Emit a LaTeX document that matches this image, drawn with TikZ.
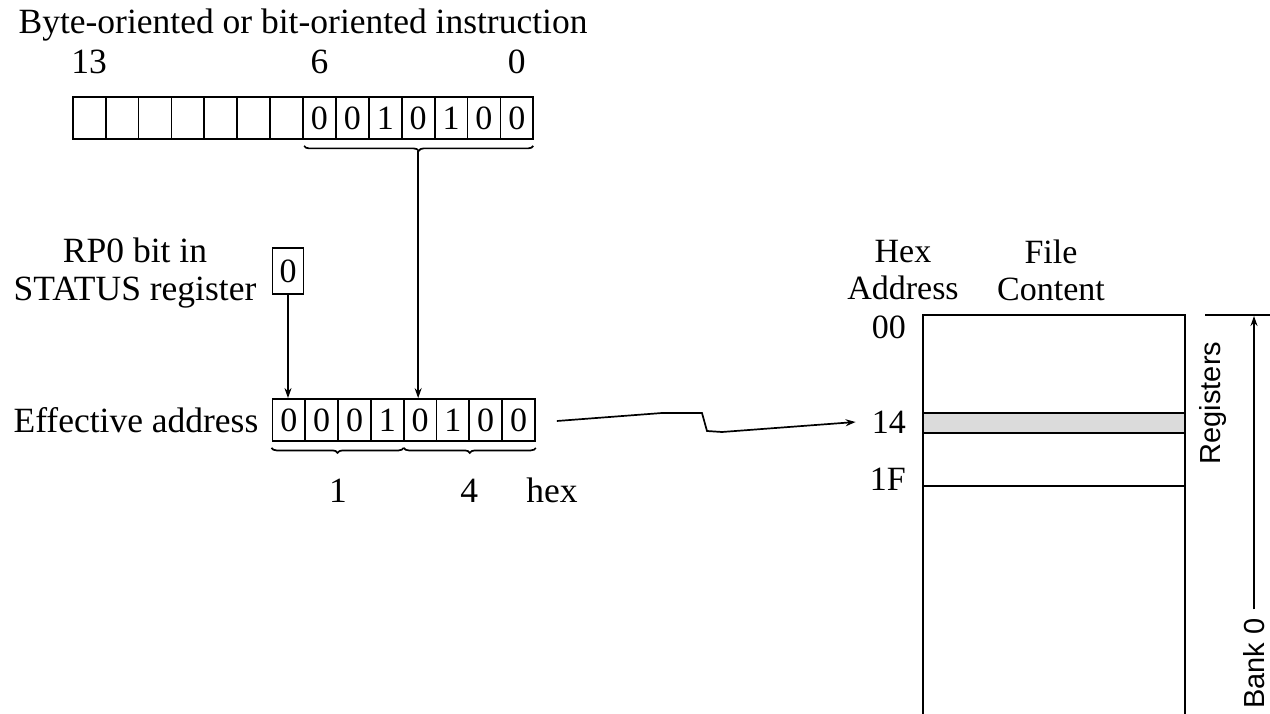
\documentclass[tikz,border=0pt]{standalone}
\usepackage{fontspec}
\setmainfont{Liberation Serif}
\newfontfamily\labelsans{Liberation Sans}
\usetikzlibrary{decorations.pathreplacing,arrows.meta,calc}

\begin{document}
\begin{tikzpicture}[x=1pt,y=-1pt,
  txt/.style={font=\fontsize{35.5}{38}\selectfont, inner sep=0pt},
  hdr/.style={font=\fontsize{34}{37}\selectfont, inner sep=0pt},
  cell/.style={draw, line width=1.8pt, minimum width=32.9pt, minimum height=42pt,
    inner sep=0pt, font=\fontsize{34}{36}\selectfont},
  ln/.style={line width=1.9pt},
  arr/.style={line width=1.7pt, -{Stealth[length=10pt,width=7pt]}},
  bracedown/.style={line width=1.7pt, decorate,
    decoration={brace, mirror, amplitude=5pt}},
  side/.style={font=\labelsans\fontsize{29}{33}\selectfont, inner sep=0pt, rotate=90}]

\useasboundingbox (0,0) rectangle (1270,714);
\fill[white] (0,0) rectangle (1270,714);

% instruction word, bits 13..0
\node[txt] (title) at (303,25) {Byte-oriented or bit-oriented instruction};
\foreach \i/\d in {0/,1/,2/,3/,4/,5/,6/,7/0,8/0,9/1,10/0,11/1,12/0,13/0}
  \node[cell] (t\i) at ({72.7+32.9*(\i+0.5)},118) {\d};
\node[txt] (b13) at (t0 |- 0,62) {13};
\node[txt] (b6)  at (t7 |- 0,62) {6};
\node[txt] (b0)  at (t13 |- 0,62) {0};

% low seven bits picked out by a brace
\draw[bracedown] ($(t7.south west)+(2,6)$) -- ($(t13.south east)+(-1,6)$);
\coordinate (tb) at ($(t7.south west)!0.5!(t13.south east)+(0,11)$);

% bank select bit
\node[txt, align=center] (rplbl) at (135,273) {RP0 bit in\\STATUS register};
\node[cell, minimum width=31pt, minimum height=46pt] (rp) at (288,271) {0};

% effective address, 8 bits
\foreach \i/\d in {0/0,1/0,2/0,3/1,4/0,5/1,6/0,7/0}
  \node[cell] (e\i) at ({272.5+32.8*(\i+0.5)},420) {\d};
\node[txt, anchor=east] (ealbl) at ($(e0.west)+(-13,0)$) {Effective address};

\draw[arr] (rp.south) -- (rp.south |- e0.north);
\draw[arr] (tb) -- (tb |- e4.north);

% nibbles
\draw[bracedown] ($(e0.south west)+(0,6)$) -- ($(e3.south east)+(-1,6)$);
\draw[bracedown] ($(e4.south west)+(1,6)$) -- ($(e7.south east)+(0,6)$);
\node[txt, anchor=base] (n1) at ($(e0.south west)!0.5!(e3.south east)+(0,61)$) {1};
\node[txt, anchor=base] (n4) at ($(e4.south west)!0.5!(e7.south east)+(0,61)$) {4};
\node[txt, anchor=base] (hex) at (552,0 |- n4.base) {hex};

% file register map, bank 0
\node[hdr, align=center] (hdaddr) at (903,270) {Hex\\Address};
\node[hdr, align=center] (hdfile) at (1051,270) {File\\Content};
\fill[gray!28] (923,413) rectangle (1185,433);
\draw[ln] (923,714) -- (923,315) -- (1185,315) -- (1185,714);
\draw[ln] (923,413) -- (1185,413);
\draw[ln] (923,433) -- (1185,433);
\draw[ln] (923,486) -- (1185,486);
\node[hdr, anchor=east] (a00) at (906,327) {00};
\node[hdr, anchor=east] (a14) at (906,422) {14};
\node[hdr, anchor=east] (a1F) at (906,479) {1F};

% address lookup
\draw[arr] ($(e7.east)+(21,1)$) -- (662,413) -- (702,413) -- (707,431)
  -- (722,432) -- ($(a14.west)+(-16,0)$);

% extent markers
\draw[ln] (1205,315) -- (1270,315);
\node[side] (reg) at (1213,403) {Registers};
\node[side, anchor=west] (bank) at (1254,709) {Bank 0};
\coordinate (regtop) at (bank.east |- 0,316);
\draw[arr] ($(bank.east)+(0,-9)$) -- (regtop);
\end{tikzpicture}
\end{document}
